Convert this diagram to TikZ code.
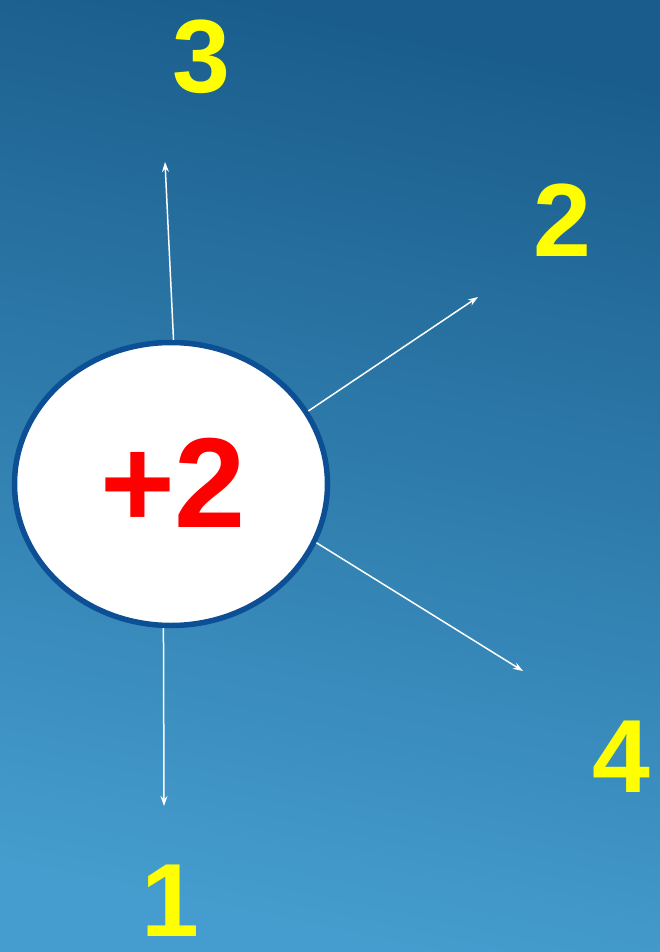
\documentclass[tikz,border=0pt]{standalone}
\usepackage{fontspec}
\setmainfont{Liberation Sans}
\usetikzlibrary{shapes.geometric,arrows.meta}
\definecolor{bgtop}{HTML}{1A5D8C}
\definecolor{bgbot}{HTML}{449DCE}
\definecolor{rim}{HTML}{0D4F94}
\definecolor{labyellow}{HTML}{FFFF00}
\definecolor{plusred}{HTML}{FF0000}
\tikzset{
  numlabel/.style={text=labyellow, font=\fontsize{104}{104}\selectfont\bfseries, inner sep=0pt},
  ray/.style={draw=white, line width=1.5pt, -{Stealth[length=10pt,width=7pt]}},
  core/.style={ellipse, draw=rim, line width=5.5pt, fill=white, minimum width=313pt, minimum height=283pt, inner sep=0pt}
}
\begin{document}
\begin{tikzpicture}[x=1pt,y=-1pt]
\shade[top color=bgtop, bottom color=bgbot, shading angle=-12] (0,0) rectangle (660,952);
\useasboundingbox (0,0) rectangle (660,952);
\node[core] (c) at (171,484) {};
\node[text=plusred, font=\fontsize{128}{128}\selectfont\bfseries, inner sep=0pt] (t) at (173,483) {+2};
\node[numlabel] (n3) at (201,57) {3};
\node[numlabel] (n2) at (562,220) {2};
\node[numlabel] (n4) at (621,757) {4};
\node[numlabel] (n1) at (170,901) {1};
\coordinate (e3) at (165,162);
\coordinate (e2) at (478,297);
\coordinate (e4) at (523,671);
\coordinate (e1) at (164,806);
\draw[ray] (c.89) -- (e3);
\draw[ray] (c.28.4) -- (e2);
\draw[ray] (c.-22.9) -- (e4);
\draw[ray] (c.267.5) -- (e1);
\end{tikzpicture}
\end{document}
